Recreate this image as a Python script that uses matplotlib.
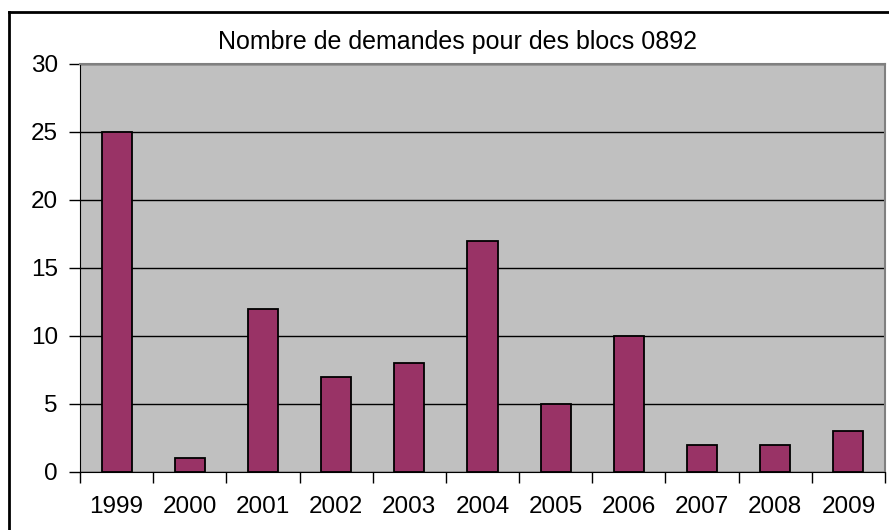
import numpy as np
import matplotlib
matplotlib.use("Agg")
import matplotlib.pyplot as plt
from matplotlib.lines import Line2D

# data
years = ["1999", "2000", "2001", "2002", "2003", "2004", "2005", "2006", "2007", "2008", "2009"]
demandes = [25, 1, 12, 7, 8, 17, 5, 10, 2, 2, 3]
titre = "Nombre de demandes pour des blocs 0892"

plt.rcParams['font.family'] = ['Liberation Sans', 'DejaVu Sans']

W, H = 889, 530
fig = plt.figure(figsize=(W / 100, H / 100), dpi=100)
fig.patch.set_facecolor("white")

# plot area in pixels
x0, x1, y0, y1 = 80, 885, 64, 472
ax = fig.add_axes([x0 / W, 1 - y1 / H, (x1 - x0) / W, (y1 - y0) / H])
ax.set_facecolor("#C0C0C0")

x = np.arange(len(years))
ax.bar(x, demandes, width=0.41, color="#993366", edgecolor="black", linewidth=1.3, zorder=3)

ax.set_xlim(-0.5, len(years) - 0.5)
ax.set_ylim(0, 30)
ax.set_yticks(range(0, 31, 5))
ax.yaxis.grid(True, color="black", linewidth=1.0, zorder=1)
ax.set_axisbelow(True)

# category ticks between bars, labels centred
ax.set_xticks(np.arange(-0.5, len(years), 1.0))
ax.set_xticklabels([])
ax.set_xticks(x, minor=True)
ax.set_xticklabels(years, minor=True)
ax.tick_params(axis="x", which="minor", length=0, pad=17, labelsize=17.5)
ax.tick_params(axis="x", which="major", length=8, width=1, direction="out")
ax.tick_params(axis="y", length=8, width=1, direction="out", pad=8, labelsize=17.5)

for side in ["top", "right"]:
    ax.spines[side].set_color("#808080")
    ax.spines[side].set_linewidth(1.5)
ax.spines["left"].set_color("black")
ax.spines["bottom"].set_color("black")

fig.text(457 / W, 1 - 42 / H, titre, ha="center", va="center", fontsize=18)

# outer chart border (left and top visible, rest cut off)
fig.add_artist(Line2D([9 / W, 9 / W], [0, 1 - 12 / H], transform=fig.transFigure, color="black", linewidth=2))
fig.add_artist(Line2D([9 / W, 1], [1 - 12 / H, 1 - 12 / H], transform=fig.transFigure, color="black", linewidth=2))

fig.savefig("out.png", dpi=100)
